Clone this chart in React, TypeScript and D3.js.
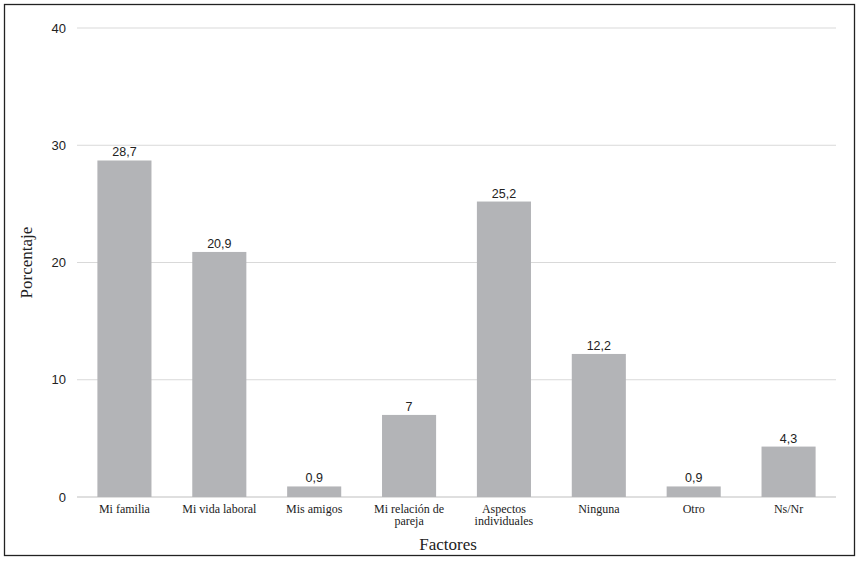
import React from 'react';
import * as d3 from 'd3';

const categories = ['Mi familia', 'Mi vida laboral', 'Mis amigos', 'Mi relación de|pareja', 'Aspectos|individuales', 'Ninguna', 'Otro', 'Ns/Nr'];
const values = [28.7, 20.9, 0.9, 7, 25.2, 12.2, 0.9, 4.3];
const yTicks = [0, 10, 20, 30, 40];

const W = 861;
const H = 563;
const margin = { top: 28, right: 25, bottom: 66, left: 77 };

const App: React.FC = () => {
    const x = d3.scaleBand<string>()
        .domain(categories)
        .range([margin.left, W - margin.right])
        .paddingInner(0.43)
        .paddingOuter(0.215);

    const y = d3.scaleLinear()
        .domain([0, 40])
        .range([H - margin.bottom, margin.top]);

    const sans = '"Liberation Sans", Arial, sans-serif';
    const serif = '"Liberation Serif", "Times New Roman", serif';
    const fmt = (v: number) => String(v).replace('.', ',');

    return (
        <svg width={W} height={H} style={{ position: 'absolute', left: 0, top: 0 }}>
            <rect x={4.5} y={4.5} width={850} height={551} fill="#fff" stroke="#222" strokeWidth={1.3} />

            {/* grid and y ticks */}
            {yTicks.map(t => (
                <g key={t}>
                    <line x1={margin.left} x2={W - margin.right} y1={y(t)} y2={y(t)}
                        stroke={t === 0 ? '#bfbfbf' : '#d9d9d9'} strokeWidth={1} />
                    <text x={66} y={y(t)} dy="0.35em" textAnchor="end" fontFamily={sans}
                        fontSize={13} fill="#222">{t}</text>
                </g>
            ))}

            {/* bars */}
            {categories.map((c, i) => {
                const cx = (x(c) ?? 0) + x.bandwidth() / 2;
                return (
                    <g key={c}>
                        <rect x={x(c)} y={y(values[i])} width={x.bandwidth()} height={y(0) - y(values[i])}
                            fill="#b3b4b7" />
                        <text x={cx} y={y(values[i]) - 4} textAnchor="middle"
                            fontFamily={sans} fontSize={12.5} fill="#222">{fmt(values[i])}</text>
                        <text y={y(0) + 15.5} textAnchor="middle" fontFamily={serif} fontSize={12} fill="#222">
                            {c.split('|').map((line, j) => (
                                <tspan key={j} x={cx} dy={j === 0 ? 0 : 12}>{line}</tspan>
                            ))}
                        </text>
                    </g>
                );
            })}

            {/* axis titles */}
            <text x={448} y={550} textAnchor="middle" fontFamily={serif} fontSize={17} fill="#222">Factores</text>
            <text transform={`translate(32, ${y(20)}) rotate(-90)`} textAnchor="middle" fontFamily={serif}
                fontSize={17} fill="#222">Porcentaje</text>
        </svg>
    );
};

export default App;
